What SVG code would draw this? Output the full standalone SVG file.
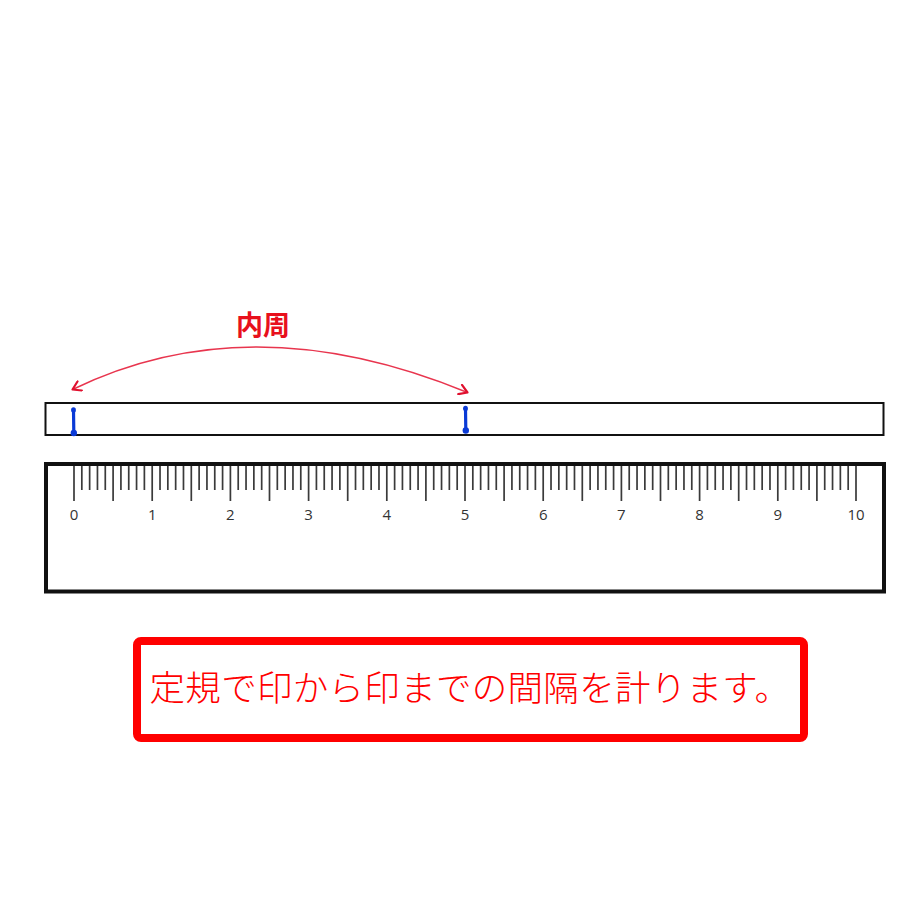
<svg xmlns="http://www.w3.org/2000/svg" width="920" height="920" viewBox="0 0 920 920">
<style>
.frame{fill:#fff;stroke:#111}
.tick{stroke:#3a3a3a;stroke-width:1.7;fill:none}
.num{font-family:"Open Sans","DejaVu Sans",sans-serif;font-size:15px;fill:#333;text-anchor:middle}
.mark{stroke:#0a3ad6;stroke-width:3.2;fill:none;stroke-linecap:round}
.blob{fill:#0a3ad6}
.arc{stroke:#e8354e;stroke-width:1.4;fill:none}
.lbl{font-family:"Noto Sans CJK JP",sans-serif;font-weight:bold;font-size:27px;fill:#e8101c;text-anchor:middle}
.msg{font-family:"Noto Sans CJK JP",sans-serif;font-weight:300;font-size:35.5px;letter-spacing:0.3px;fill:#ff0000;text-anchor:middle}
</style>
<defs>
<marker id="chev" viewBox="0 0 12 12" refX="10" refY="6" markerWidth="12" markerHeight="12" markerUnits="userSpaceOnUse" orient="auto-start-reverse">
<path d="M2 1 L10 6 L2 11" fill="none" stroke="#e0102e" stroke-width="2.2" stroke-linecap="round" stroke-linejoin="round"/>
</marker>
</defs>
<rect width="920" height="920" fill="#fff"/>
<g id="strip">
<rect class="frame" x="45.5" y="403" width="838" height="32" stroke-width="2"/>
</g>
<g id="mark-0">
<line class="mark" x1="73.5" y1="410" x2="73.8" y2="432"/>
<ellipse class="blob" cx="73.5" cy="410" rx="2.4" ry="2.8"/>
<ellipse class="blob" cx="73.8" cy="433" rx="3.2" ry="3.2"/>
</g>
<g id="mark-5">
<line class="mark" x1="465.5" y1="408.5" x2="465.8" y2="430"/>
<ellipse class="blob" cx="465.5" cy="408.5" rx="2.4" ry="2.8"/>
<ellipse class="blob" cx="465.8" cy="430.5" rx="3.2" ry="3.2"/>
</g>
<g id="connectors">
<path class="arc" d="M72.5 389.5 Q250 303 467.5 392.5" marker-start="url(#chev)" marker-end="url(#chev)"/>
</g>
<g id="label">
<text class="lbl" x="263" y="335">内周</text>
</g>
<g id="ruler">
<rect class="frame" x="46" y="464" width="838" height="127.5" stroke-width="4"/>
<path class="tick" d="M81.82 466v24M89.64 466v24M97.46 466v24M105.28 466v24M120.92 466v24M128.74 466v24M136.56 466v24M144.38 466v24M160.02 466v24M167.84 466v24M175.66 466v24M183.48 466v24M199.12 466v24M206.94 466v24M214.76 466v24M222.58 466v24M238.22 466v24M246.04 466v24M253.86 466v24M261.68 466v24M277.32 466v24M285.14 466v24M292.96 466v24M300.78 466v24M316.42 466v24M324.24 466v24M332.06 466v24M339.88 466v24M355.52 466v24M363.34 466v24M371.16 466v24M378.98 466v24M394.62 466v24M402.44 466v24M410.26 466v24M418.08 466v24M433.72 466v24M441.54 466v24M449.36 466v24M457.18 466v24M472.82 466v24M480.64 466v24M488.46 466v24M496.28 466v24M511.92 466v24M519.74 466v24M527.56 466v24M535.38 466v24M551.02 466v24M558.84 466v24M566.66 466v24M574.48 466v24M590.12 466v24M597.94 466v24M605.76 466v24M613.58 466v24M629.22 466v24M637.04 466v24M644.86 466v24M652.68 466v24M668.32 466v24M676.14 466v24M683.96 466v24M691.78 466v24M707.42 466v24M715.24 466v24M723.06 466v24M730.88 466v24M746.52 466v24M754.34 466v24M762.16 466v24M769.98 466v24M785.62 466v24M793.44 466v24M801.26 466v24M809.08 466v24M824.72 466v24M832.54 466v24M840.36 466v24M848.18 466v24"/>
<path class="tick" d="M74 466v35M113.1 466v35M152.2 466v35M191.3 466v35M230.4 466v35M269.5 466v35M308.6 466v35M347.7 466v35M386.8 466v35M425.9 466v35M465 466v35M504.1 466v35M543.2 466v35M582.3 466v35M621.4 466v35M660.5 466v35M699.6 466v35M738.7 466v35M777.8 466v35M816.9 466v35M856 466v35"/>
<text class="num" x="74" y="520">0</text>
<text class="num" x="152.2" y="520">1</text>
<text class="num" x="230.4" y="520">2</text>
<text class="num" x="308.6" y="520">3</text>
<text class="num" x="386.8" y="520">4</text>
<text class="num" x="465" y="520">5</text>
<text class="num" x="543.2" y="520">6</text>
<text class="num" x="621.4" y="520">7</text>
<text class="num" x="699.6" y="520">8</text>
<text class="num" x="777.8" y="520">9</text>
<text class="num" x="856" y="520">10</text>
</g>
<g id="note">
<rect x="137" y="641" width="667" height="97" rx="4" fill="#fff" stroke="#ff0000" stroke-width="8"/>
<text class="msg" x="470" y="701">定規で印から印までの間隔を計ります。</text>
</g>
</svg>
